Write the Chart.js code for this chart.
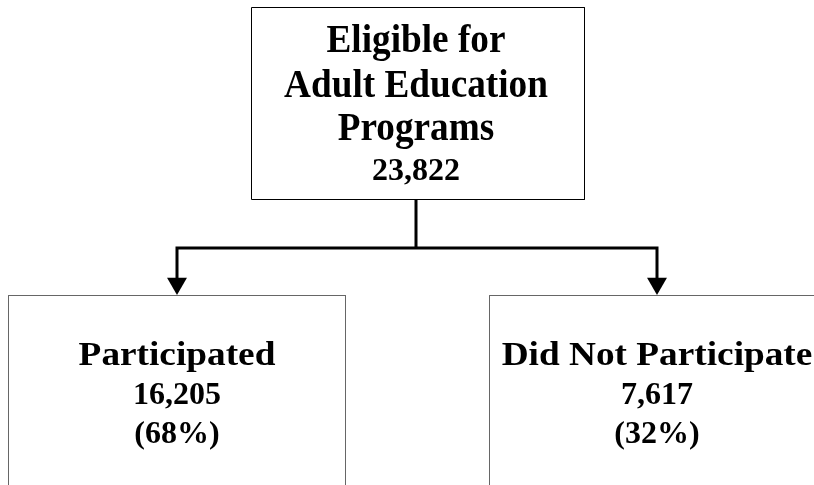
<!DOCTYPE html>
<html>
<head>
<meta charset="utf-8">
<script src="https://cdn.jsdelivr.net/npm/chart.js@4.4.1/dist/chart.umd.min.js"></script>
<style>
    html, body { margin: 0; padding: 0; background: #fff; }
    #wrap { width: 814px; height: 485px; }
</style>
</head>
<body>
<div id="wrap"><canvas id="flowChart" width="814" height="485"></canvas></div>
<script>
// data
const nodeTitles = [["Eligible for", "Adult Education", "Programs"], ["Participated"], ["Did Not Participate"]];
const nodeCounts = [23822, 16205, 7617];
const nodeShares = [null, 68, 32];

// layout (pixel units of the page)
const layout = [
    { x: 416, left: 251.5, right: 584.5, top: 7.5, bottom: 199.5,
      titleBase: [52, 97, 140], countBase: 180, titleSize: 39, titleStretch: 0.955 },
    { x: 177, left: 8.5, right: 345.5, top: 295.5, bottom: 520,
      titleBase: [365], countBase: 404, shareBase: 443, titleSize: 33, titleStretch: 1.13 },
    { x: 657, left: 489.5, right: 825.5, top: 295.5, bottom: 520,
      titleBase: [365], countBase: 404, shareBase: 443, titleSize: 33, titleStretch: 1.13 }
];
const branchY = 248;
const arrowTip = 295;

function boxOutline(b) {
    return [
        { x: b.left, y: b.bottom }, { x: b.left, y: b.top },
        { x: b.right, y: b.top }, { x: b.right, y: b.bottom }
    ];
}

var datasets = [];
// boxes
layout.forEach(function (b, i) {
    datasets.push({
        data: boxOutline(b).concat(i === 0 ? [{ x: b.left, y: b.bottom }] : []),
        borderColor: i === 0 ? "#000" : "#666",
        borderWidth: 1,
        pointRadius: 0,
        showLine: true,
        tension: 0
    });
    if (i > 0) {
        // darker top edge
        datasets.push({
            data: [{ x: b.left, y: b.top }, { x: b.right, y: b.top }],
            borderColor: "#000", borderWidth: 1, pointRadius: 0, showLine: true
        });
    }
});
// connectors
var rootBox = layout[0];
datasets.push({
    data: [{ x: rootBox.x, y: rootBox.bottom }, { x: rootBox.x, y: branchY }],
    borderColor: "#000", borderWidth: 3, pointRadius: 0, showLine: true
});
datasets.push({
    data: [
        { x: layout[1].x, y: arrowTip - 14 }, { x: layout[1].x, y: branchY },
        { x: layout[2].x, y: branchY }, { x: layout[2].x, y: arrowTip - 14 }
    ],
    borderColor: "#000", borderWidth: 3, pointRadius: 0, showLine: true,
    borderJoinStyle: "miter"
});
// arrow heads
datasets.push({
    data: [{ x: layout[1].x, y: arrowTip - 11.5 }, { x: layout[2].x, y: arrowTip - 11.5 }],
    showLine: false,
    pointStyle: "triangle",
    rotation: 180,
    pointRadius: 11.5,
    pointBackgroundColor: "#000",
    pointBorderColor: "#000",
    pointBorderWidth: 0
});

const textPlugin = {
    id: "nodeText",
    afterDatasetsDraw(chart) {
        var ctx = chart.ctx;
        var xs = chart.scales.x, ys = chart.scales.y;
        ctx.save();
        ctx.fillStyle = "#000";
        ctx.textAlign = "center";
        ctx.textBaseline = "alphabetic";
        layout.forEach(function (b, i) {
            var cx = xs.getPixelForValue(b.x);
            nodeTitles[i].forEach(function (line, j) {
                ctx.save();
                ctx.translate(cx, ys.getPixelForValue(b.titleBase[j]));
                ctx.scale(b.titleStretch, 1);
                ctx.font = "bold " + b.titleSize + "px 'Liberation Serif', 'Times New Roman', serif";
                ctx.fillText(line, 0, 0);
                ctx.restore();
            });
            ctx.font = "bold 32px 'Liberation Serif', 'Times New Roman', serif";
            ctx.fillText(nodeCounts[i].toLocaleString("en-US"), cx, ys.getPixelForValue(b.countBase));
            if (nodeShares[i] !== null) {
                ctx.fillText("(" + nodeShares[i] + "%)", cx, ys.getPixelForValue(b.shareBase));
            }
        });
        ctx.restore();
    }
};

new Chart(document.getElementById("flowChart"), {
    type: "scatter",
    data: { datasets: datasets },
    options: {
        responsive: false,
        animation: false,
        layout: { padding: 0, autoPadding: false },
        scales: {
            x: { type: "linear", min: 0, max: 814, display: false },
            y: { type: "linear", min: 0, max: 485, reverse: true, display: false }
        },
        plugins: {
            legend: { display: false },
            tooltip: { enabled: false }
        },
        elements: { line: { borderCapStyle: "butt" } }
    },
    plugins: [textPlugin]
});
</script>
</body>
</html>
